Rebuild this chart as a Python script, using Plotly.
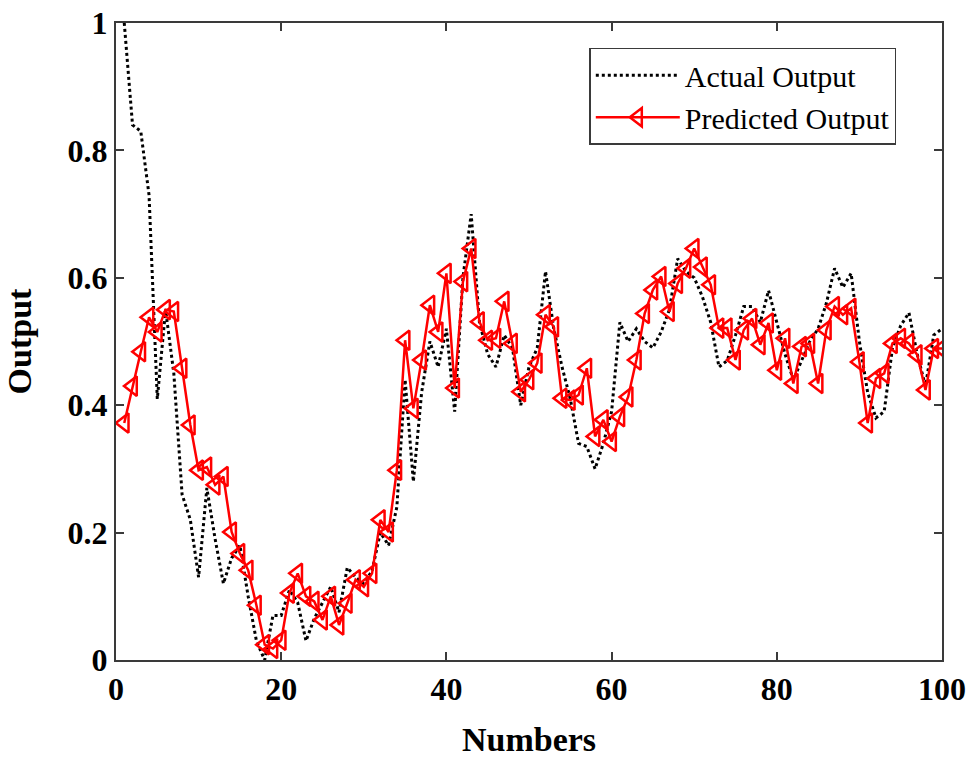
import plotly.graph_objects as go

numbers = list(range(1, 101))

actual_output = [
    1.00, 0.84, 0.83, 0.73, 0.41, 0.55, 0.45, 0.26, 0.22, 0.13,
    0.27, 0.19, 0.12, 0.16, 0.18, 0.10, 0.03, 0.00, 0.07, 0.07,
    0.11, 0.09, 0.03, 0.065, 0.09, 0.115, 0.075, 0.145, 0.13, 0.12,
    0.14, 0.20, 0.18, 0.24, 0.44, 0.28, 0.42, 0.50, 0.46, 0.52,
    0.39, 0.60, 0.70, 0.53, 0.48, 0.46, 0.51, 0.49, 0.40, 0.46,
    0.49, 0.61, 0.52, 0.46, 0.41, 0.34, 0.335, 0.30, 0.34, 0.39,
    0.53, 0.50, 0.52, 0.50, 0.49, 0.515, 0.55, 0.63, 0.61, 0.60,
    0.57, 0.53, 0.46, 0.47, 0.51, 0.555, 0.555, 0.53, 0.58, 0.53,
    0.48, 0.44, 0.47, 0.50, 0.52, 0.56, 0.615, 0.585, 0.607, 0.50,
    0.42, 0.38, 0.39, 0.49, 0.525, 0.545, 0.48, 0.43, 0.51, 0.52,
]

predicted_output = [
    0.372, 0.430, 0.484, 0.538, 0.515, 0.550, 0.547, 0.458, 0.369, 0.298,
    0.303, 0.275, 0.288, 0.201, 0.167, 0.141, 0.086, 0.024, 0.018, 0.031,
    0.105, 0.136, 0.100, 0.092, 0.063, 0.100, 0.055, 0.089, 0.126, 0.115,
    0.136, 0.220, 0.201, 0.298, 0.502, 0.395, 0.471, 0.557, 0.515, 0.607,
    0.427, 0.594, 0.646, 0.531, 0.502, 0.505, 0.563, 0.497, 0.421, 0.440,
    0.466, 0.542, 0.523, 0.411, 0.408, 0.416, 0.458, 0.351, 0.377, 0.343,
    0.382, 0.413, 0.471, 0.544, 0.581, 0.602, 0.547, 0.591, 0.615, 0.646,
    0.617, 0.589, 0.521, 0.521, 0.471, 0.518, 0.536, 0.495, 0.529, 0.455,
    0.505, 0.434, 0.492, 0.497, 0.434, 0.518, 0.555, 0.542, 0.552, 0.468,
    0.372, 0.442, 0.450, 0.497, 0.505, 0.497, 0.479, 0.424, 0.489, 0.489,
]

x_ticks = [0, 20, 40, 60, 80, 100]
y_ticks = [0, 0.2, 0.4, 0.6, 0.8, 1]
y_tick_labels = ["0", "0.2", "0.4", "0.6", "0.8", "1"]

fig = go.Figure()
fig.add_trace(go.Scatter(
    x=numbers, y=actual_output, mode="lines", name="Actual Output",
    line=dict(color="black", width=3, dash="dot"),
))
fig.add_trace(go.Scatter(
    x=numbers, y=predicted_output, mode="lines+markers", name="Predicted Output",
    line=dict(color="#ff0000", width=2.5),
    marker=dict(symbol="triangle-left-open", size=17, color="#ff0000",
                line=dict(color="#ff0000", width=2.5)),
))

serif = "Liberation Serif, Times New Roman, serif"
axis_common = dict(
    showline=True, linecolor="#3a3a3a", linewidth=2, mirror="ticks",
    ticks="inside", ticklen=8, tickwidth=1.5, tickcolor="#3a3a3a",
    showgrid=False, zeroline=False, automargin=False,
    ticklabeloverflow="allow",
    tickfont=dict(family=serif, size=32, color="black", weight="bold"),
)

fig.update_layout(
    width=970, height=758,
    margin=dict(l=116, r=28, t=23, b=98),
    paper_bgcolor="white", plot_bgcolor="white",
    xaxis=dict(range=[0, 100], tickvals=x_ticks, ticktext=[str(t) for t in x_ticks],
               title=dict(text="Numbers", font=dict(family=serif, size=34, color="black", weight="bold"),
                          standoff=22),
               **axis_common),
    yaxis=dict(range=[0, 1], tickvals=y_ticks, ticktext=y_tick_labels,
               title=dict(text="Output", font=dict(family=serif, size=34, color="black", weight="bold"),
                          standoff=26),
               **axis_common),
    legend=dict(x=0.573, y=0.961, xanchor="left", yanchor="top",
                bgcolor="white", bordercolor="#3a3a3a", borderwidth=1.5,
                font=dict(family=serif, size=30, color="black"),
                itemwidth=84, tracegroupgap=0),
    showlegend=True,
)

fig.write_html(
    "out.html",
    config={"displayModeBar": False},
    post_script="document.body.style.margin='0';document.body.style.overflow='hidden';",
)
